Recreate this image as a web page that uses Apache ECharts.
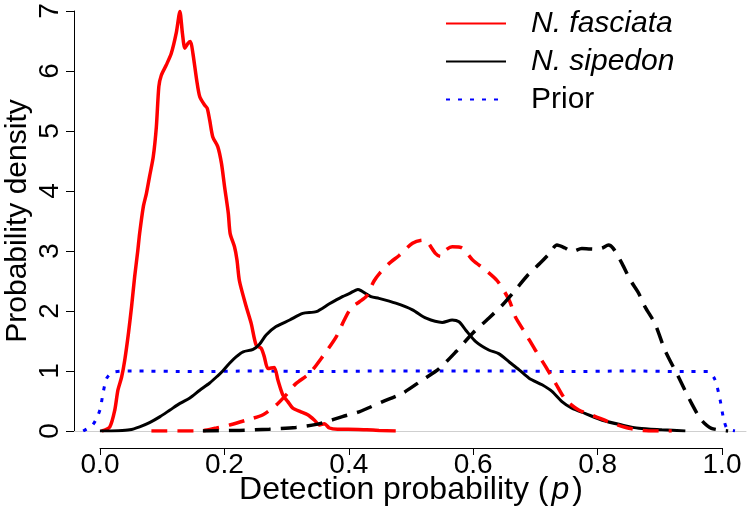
<!DOCTYPE html>
<html>
<head>
<meta charset="utf-8">
<script src="https://cdn.jsdelivr.net/npm/echarts@6/dist/echarts.min.js"></script>
<style>html,body{margin:0;padding:0;background:#fff;}#c{width:750px;height:511px;}</style>
</head>
<body>
<div id="c"></div>
<script>
// x tick labels / y tick labels
var xTicks = [0.0, 0.2, 0.4, 0.6, 0.8, 1.0];
var yTicks = [0, 1, 2, 3, 4, 5, 6, 7];
var legendNames = ['N. fasciata', 'N. sipedon', 'Prior'];

// N. fasciata (solid red)  [p, density]
var fasciataSolid = [[0.003,0],[0.016,0.07],[0.024,0.35],[0.029,0.68],[0.035,0.9],[0.040,1.18],[0.046,1.63],[0.051,2.07],[0.056,2.57],[0.061,3.0],[0.064,3.29],[0.070,3.74],[0.075,3.96],[0.080,4.24],[0.086,4.57],[0.091,5.07],[0.095,5.74],[0.099,5.93],[0.107,6.1],[0.115,6.29],[0.123,6.63],[0.129,6.99],[0.133,6.63],[0.137,6.38],[0.142,6.46],[0.146,6.49],[0.150,6.29],[0.156,5.85],[0.161,5.57],[0.169,5.43],[0.173,5.38],[0.177,5.18],[0.182,4.9],[0.190,4.74],[0.196,4.46],[0.201,4.07],[0.207,3.63],[0.210,3.29],[0.217,3.07],[0.221,2.85],[0.225,2.5],[0.236,2.07],[0.244,1.79],[0.252,1.43],[0.260,1.38],[0.265,1.24],[0.271,1.04],[0.281,1.06],[0.287,0.85],[0.295,0.60],[0.303,0.49],[0.311,0.38],[0.324,0.32],[0.335,0.27],[0.346,0.18],[0.354,0.10],[0.362,0.12],[0.370,0.05],[0.383,0.03],[0.40,0.03],[0.43,0.02],[0.45,0.01],[0.477,0.0]];
// N. sipedon (solid black)
var sipedonSolid = [[0.0,0],[0.03,0.005],[0.048,0.02],[0.064,0.07],[0.080,0.14],[0.097,0.24],[0.113,0.35],[0.129,0.46],[0.145,0.55],[0.161,0.68],[0.177,0.8],[0.190,0.92],[0.198,1.0],[0.209,1.13],[0.220,1.24],[0.231,1.32],[0.247,1.36],[0.257,1.44],[0.268,1.6],[0.284,1.74],[0.306,1.85],[0.327,1.96],[0.349,1.99],[0.370,2.12],[0.391,2.24],[0.402,2.29],[0.416,2.36],[0.421,2.34],[0.437,2.24],[0.450,2.21],[0.477,2.13],[0.504,2.02],[0.526,1.88],[0.552,1.81],[0.568,1.85],[0.579,1.82],[0.590,1.68],[0.606,1.49],[0.627,1.35],[0.643,1.29],[0.660,1.15],[0.676,1.02],[0.692,0.88],[0.713,0.77],[0.729,0.66],[0.745,0.49],[0.761,0.38],[0.783,0.29],[0.810,0.18],[0.842,0.10],[0.869,0.045],[0.906,0.02],[0.944,0.0]];
// N. fasciata (dashed red)
var fasciataDashed = [[0.083,0],[0.161,0],[0.188,0.05],[0.209,0.10],[0.236,0.18],[0.263,0.27],[0.284,0.43],[0.300,0.6],[0.316,0.79],[0.338,0.96],[0.359,1.24],[0.381,1.57],[0.394,1.85],[0.405,2.05],[0.418,2.15],[0.430,2.25],[0.442,2.5],[0.452,2.64],[0.466,2.79],[0.483,2.93],[0.504,3.13],[0.520,3.18],[0.528,3.15],[0.541,2.96],[0.549,2.91],[0.558,3.02],[0.568,3.07],[0.584,3.05],[0.601,2.85],[0.622,2.68],[0.641,2.5],[0.660,2.18],[0.670,1.90],[0.686,1.63],[0.702,1.35],[0.719,1.07],[0.735,0.79],[0.751,0.52],[0.772,0.35],[0.799,0.24],[0.826,0.13],[0.853,0.045],[0.885,0.0],[0.922,0]];
// N. sipedon (dashed black)
var sipedonDashed = [[0.166,0.0],[0.225,0.01],[0.273,0.03],[0.316,0.06],[0.349,0.11],[0.370,0.17],[0.391,0.24],[0.418,0.32],[0.456,0.49],[0.488,0.63],[0.520,0.85],[0.547,1.04],[0.574,1.32],[0.601,1.63],[0.627,1.88],[0.649,2.1],[0.670,2.35],[0.690,2.6],[0.710,2.8],[0.724,2.95],[0.737,3.1],[0.750,3.05],[0.761,2.99],[0.777,3.04],[0.800,3.03],[0.810,3.05],[0.820,3.1],[0.828,3.04],[0.842,2.79],[0.855,2.52],[0.869,2.29],[0.879,2.07],[0.895,1.79],[0.911,1.35],[0.933,0.9],[0.954,0.46],[0.970,0.18],[0.986,0.045],[1.013,0.0]];
// Prior (dotted blue)
var prior = [[-0.027,0],[-0.011,0.11],[0.0,0.35],[0.005,0.63],[0.011,0.88],[0.021,0.98],[0.05,1.0],[0.15,0.99],[0.25,1.0],[0.35,0.99],[0.45,1.0],[0.55,1.0],[0.65,1.0],[0.75,0.99],[0.85,1.0],[0.95,0.99],[0.981,0.99],[0.992,0.85],[1.0,0.52],[1.005,0.24],[1.011,0.045],[1.024,0]];

var FONT = 'Liberation Sans';
var chart = echarts.init(document.getElementById('c'), null, {renderer: 'canvas'});

function line(name, data, color, width, type) {
  return {
    name: name, type: 'line', data: data, xAxisIndex: 0, yAxisIndex: 0,
    symbol: 'none', smooth: 0.25, animation: false, silent: true,
    lineStyle: {color: color, width: width, type: type},
    itemStyle: {color: color}
  };
}

var option = {
  animation: false,
  grid: [
    {left: 74, right: 4, top: 11, bottom: 80, outerBoundsMode: 'none'},
    {left: 100, right: 28, top: 11, bottom: 63, outerBoundsMode: 'none'}
  ],
  xAxis: [
    {gridIndex: 0, type: 'value', min: -0.0418, max: 1.0418,
     axisLine: {show: true, onZero: false, lineStyle: {color: '#cfcfcf', width: 1}},
     axisTick: {show: false}, axisLabel: {show: false}, splitLine: {show: false}},
    {gridIndex: 1, type: 'value', min: xTicks[0], max: xTicks[xTicks.length - 1], interval: 0.2,
     axisLine: {show: true, onZero: false, lineStyle: {color: '#000', width: 1}},
     axisTick: {show: true, length: 7, lineStyle: {color: '#000', width: 1}},
     axisLabel: {fontFamily: FONT, fontSize: 28, color: '#000', margin: 3,
       formatter: function (v) { return v.toFixed(1); }},
     splitLine: {show: false},
     name: 'Detection probability ({i|p})', nameLocation: 'middle', nameGap: 26,
     nameMoveOverlap: false,
     nameTextStyle: {fontFamily: FONT, fontSize: 32, color: '#000', verticalAlign: 'top',
       rich: {i: {fontFamily: FONT, fontSize: 32, fontStyle: 'italic', color: '#000', padding: [0, 3, 0, 3]}}}}
  ],
  yAxis: [
    {gridIndex: 0, type: 'value', min: yTicks[0], max: yTicks[yTicks.length - 1], interval: 1,
     axisLine: {show: true, onZero: false, lineStyle: {color: '#000', width: 1}},
     axisTick: {show: true, length: 8, lineStyle: {color: '#000', width: 1}},
     axisLabel: {fontFamily: FONT, fontSize: 28, color: '#000', rotate: 90, margin: 10},
     splitLine: {show: false},
     name: 'Probability density', nameLocation: 'middle', nameGap: 41,
     nameMoveOverlap: false,
     nameTextStyle: {fontFamily: FONT, fontSize: 30, color: '#000'}},
    {gridIndex: 1, type: 'value', show: false, min: 0, max: 1}
  ],
  legend: {
    data: legendNames, orient: 'vertical', left: 440, top: 3,
    itemWidth: 60, itemHeight: 14, itemGap: 7,
    itemStyle: {opacity: 0},
    textStyle: {fontFamily: FONT, fontSize: 30, color: '#000', lineHeight: 31, padding: [0, 0, 0, 20],
      rich: {it: {fontFamily: FONT, fontSize: 30, fontStyle: 'italic', color: '#000'},
             nm: {fontFamily: FONT, fontSize: 30, color: '#000'}}},
    formatter: function (n) { return n === 'Prior' ? '{nm|' + n + '}' : '{it|' + n + '}'; },
    selectedMode: false
  },
  series: [
    line('Prior', prior, '#0000ff', 3, [4, 8]),
    line('N. fasciata', fasciataSolid, '#ff0000', 3.5, 'solid'),
    line('N. sipedon', sipedonSolid, '#000000', 3, 'solid'),
    line('N. fasciata (p2)', fasciataDashed, '#ff0000', 3.5, [16, 10]),
    line('N. sipedon (p2)', sipedonDashed, '#000000', 3.5, [16, 10])
  ]
};
chart.setOption(option);
</script>
</body>
</html>
